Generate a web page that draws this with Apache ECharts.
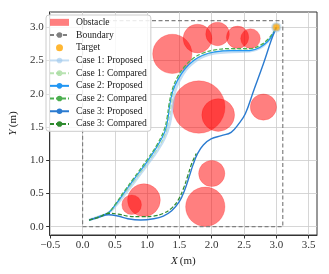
<!DOCTYPE html>
<html><head><meta charset="utf-8">
<script src="https://cdn.jsdelivr.net/npm/echarts@6/dist/echarts.min.js"></script>
<style>html,body{margin:0;padding:0;background:#fff}#c{width:329px;height:274px}</style>
</head><body><div id="c"></div>
<script>
const xTicks = [-0.5, 0, 0.5, 1, 1.5, 2, 2.5, 3, 3.5];
const yTicks = [0, 0.5, 1, 1.5, 2, 2.5, 3];

// obstacles: centre x, centre y, radius (m)
const obstacleX = [1.39, 1.78, 2.09, 2.40, 2.60, 1.80, 2.10, 2.80, 0.95, 0.76, 1.90, 2.00];
const obstacleY = [2.60, 2.83, 2.90, 2.85, 2.83, 1.80, 1.68, 1.80, 0.40, 0.33, 0.30, 0.80];
const obstacleR = [0.30, 0.22, 0.18, 0.17, 0.15, 0.40, 0.25, 0.20, 0.25, 0.15, 0.30, 0.20];

const boundaryX = [0, 3.1, 3.1, 0, 0];
const boundaryY = [0, 0, 3.1, 3.1, 0];

const targetX = [3.0];
const targetY = [3.0];

const case1Proposed = [[0.10,0.10],[0.25,0.15],[0.40,0.21],[0.50,0.30],[0.65,0.48],[0.80,0.67],[1.00,0.93],[1.15,1.13],[1.27,1.33],[1.35,1.55],[1.39,1.80],[1.43,2.03],[1.50,2.20],[1.60,2.36],[1.73,2.48],[1.87,2.56],[2.05,2.61],[2.30,2.63],[2.59,2.64],[2.75,2.69],[2.87,2.79],[2.95,2.90],[3.0,3.0]];
const case1Compared = [[0.10,0.10],[0.25,0.15],[0.40,0.21],[0.50,0.31],[0.65,0.50],[0.80,0.69],[1.00,0.95],[1.15,1.16],[1.27,1.37],[1.33,1.58],[1.37,1.82],[1.41,2.05],[1.48,2.22],[1.59,2.38],[1.72,2.50],[1.87,2.58],[2.05,2.63],[2.30,2.66],[2.59,2.66],[2.75,2.71],[2.87,2.80],[2.95,2.91],[3.0,3.0]];
const case2Proposed = [[0.10,0.10],[0.25,0.15],[0.40,0.21],[0.50,0.32],[0.65,0.52],[0.80,0.72],[1.00,0.98],[1.15,1.20],[1.27,1.42],[1.32,1.62],[1.35,1.83],[1.40,2.05],[1.48,2.22],[1.59,2.38],[1.72,2.50],[1.86,2.58],[2.05,2.63],[2.30,2.65],[2.59,2.65],[2.75,2.70],[2.87,2.79],[2.95,2.90],[3.0,3.0]];
const case2Compared = [[0.10,0.10],[0.25,0.15],[0.40,0.21],[0.50,0.33],[0.65,0.54],[0.80,0.74],[1.00,1.01],[1.15,1.23],[1.26,1.45],[1.31,1.65],[1.34,1.85],[1.39,2.07],[1.47,2.25],[1.58,2.41],[1.71,2.53],[1.86,2.61],[2.05,2.66],[2.30,2.68],[2.59,2.68],[2.75,2.73],[2.87,2.82],[2.95,2.92],[3.0,3.0]];
const case3Proposed = [[0.10,0.10],[0.25,0.14],[0.40,0.18],[0.55,0.16],[0.70,0.12],[0.90,0.10],[1.10,0.12],[1.25,0.16],[1.38,0.24],[1.50,0.38],[1.58,0.55],[1.65,0.75],[1.71,0.93],[1.78,1.10],[1.87,1.23],[1.99,1.32],[2.15,1.37],[2.30,1.42],[2.42,1.55],[2.52,1.70],[2.65,2.05],[2.80,2.45],[2.92,2.80],[3.0,3.0]];
const case3Compared = [[0.10,0.10],[0.25,0.14],[0.40,0.20],[0.55,0.19],[0.70,0.16],[0.90,0.15],[1.10,0.16],[1.25,0.20],[1.38,0.28],[1.48,0.40],[1.56,0.57],[1.63,0.77],[1.69,0.95],[1.76,1.10]];

const FONT = 'Liberation Serif';
const fmt = v => (v < 0 ? '\u2212' + (-v).toFixed(1) : v.toFixed(1));

const chart = echarts.init(document.getElementById('c'), null, {renderer: 'canvas'});

function lineSeries(name, data, color, width, dashed, opacity) {
  return {
    name, type: 'line', data, symbol: 'none', showSymbol: false, smooth: 0.4,
    lineStyle: {color, width, type: dashed ? [4, 2] : 'solid', opacity: opacity == null ? 1 : opacity},
    itemStyle: {color, opacity: opacity == null ? 1 : opacity},
    z: 3, clip: true
  };
}

const option = {
  animation: false,
  backgroundColor: '#fff',
  grid: {left: 42, right: 12, top: 12, bottom: 39, show: true, borderColor: '#333', borderWidth: 1, backgroundColor: 'transparent'},
  xAxis: {
    type: 'value', min: -0.51, max: 3.63,
    axisLine: {onZero: false, lineStyle: {color: '#333', width: 1}},
    axisTick: {customValues: xTicks, length: 3.5, lineStyle: {color: '#333'}},
    axisLabel: {customValues: xTicks, formatter: fmt, color: '#333', fontFamily: FONT, fontSize: 11, margin: 5},
    splitLine: {show: true, lineStyle: {color: '#cbcbcb', width: 0.8}},
    name: '{i|X}\u2009(m)', nameLocation: 'middle', nameGap: 20,
    nameTextStyle: {color: '#222', fontFamily: FONT, fontSize: 11, rich: {i: {fontStyle: 'italic', fontFamily: FONT, fontSize: 11, color: '#222'}}}
  },
  yAxis: {
    type: 'value', min: -0.125, max: 3.23,
    axisLine: {onZero: false, lineStyle: {color: '#333', width: 1}},
    axisTick: {customValues: yTicks, length: 3.5, lineStyle: {color: '#333'}},
    axisLabel: {customValues: yTicks, formatter: fmt, color: '#333', fontFamily: FONT, fontSize: 11, margin: 6},
    splitLine: {show: true, lineStyle: {color: '#cbcbcb', width: 0.8}},
    name: '{i|Y}\u2009(m)', nameLocation: 'middle', nameGap: 22,
    nameTextStyle: {color: '#222', fontFamily: FONT, fontSize: 11, rich: {i: {fontStyle: 'italic', fontFamily: FONT, fontSize: 11, color: '#222'}}}
  },
  legend: {
    orient: 'vertical', left: 46, top: 15,
    padding: [1, 4, 1, 3], itemGap: 0, itemWidth: 19, itemHeight: 7,
    backgroundColor: 'rgba(255,255,255,0.85)', borderColor: '#cccccc', borderWidth: 1, borderRadius: 3,
    textStyle: {fontFamily: FONT, fontSize: 9.6, color: '#222', lineHeight: 12.7, padding: [0, 0, 0, 2]},
    data: [
      {name: 'Obstacle', icon: 'rect'},
      {name: 'Boundary'},
      {name: 'Target', icon: 'circle', itemStyle: {borderWidth: 0}},
      {name: 'Case 1: Proposed'},
      {name: 'Case 1: Compared'},
      {name: 'Case 2: Proposed'},
      {name: 'Case 2: Compared'},
      {name: 'Case 3: Proposed'},
      {name: 'Case 3: Compared'}
    ]
  },
  series: [
    {
      name: 'Obstacle', type: 'custom', clip: true, z: 1,
      data: obstacleX.map((x, i) => [x, obstacleY[i], obstacleR[i]]),
      itemStyle: {color: 'rgba(255,0,0,0.5)'},
      encode: {x: 0, y: 1},
      renderItem: function (params, api) {
        const c = api.coord([api.value(0), api.value(1)]);
        const s = api.size([api.value(2), api.value(2)]);
        return {type: 'circle', shape: {cx: c[0], cy: c[1], r: (s[0] + s[1]) / 2},
          style: {fill: 'rgba(255,0,0,0.5)', stroke: 'rgba(255,0,0,0.25)', lineWidth: 0.8}};
      }
    },
    {
      name: 'Boundary', type: 'line', symbol: 'none', z: 2,
      data: boundaryX.map((x, i) => [x, boundaryY[i]]),
      lineStyle: {color: '#808080', width: 1.2, type: [4, 2.5]},
      itemStyle: {color: '#808080'}
    },
    lineSeries('Case 1: Proposed', case1Proposed, '#9cc8ec', 2.6, false, 0.6),
    lineSeries('Case 1: Compared', case1Compared, '#a8dca0', 1.2, true, 0.8),
    lineSeries('Case 2: Proposed', case2Proposed, '#2196f3', 1.2, false),
    lineSeries('Case 2: Compared', case2Compared, '#4caf50', 1.2, true),
    lineSeries('Case 3: Proposed', case3Proposed, '#2b7bd0', 1.4, false),
    lineSeries('Case 3: Compared', case3Compared, '#2e8b2e', 1.2, true),
    {
      name: 'Target', type: 'scatter', z: 5, symbol: 'circle', symbolSize: 8,
      data: targetX.map((x, i) => [x, targetY[i]]),
      itemStyle: {color: '#ffa500', borderColor: 'rgba(156,200,236,0.6)', borderWidth: 2.5}
    }
  ]
};
chart.setOption(option);
</script>
</body></html>
